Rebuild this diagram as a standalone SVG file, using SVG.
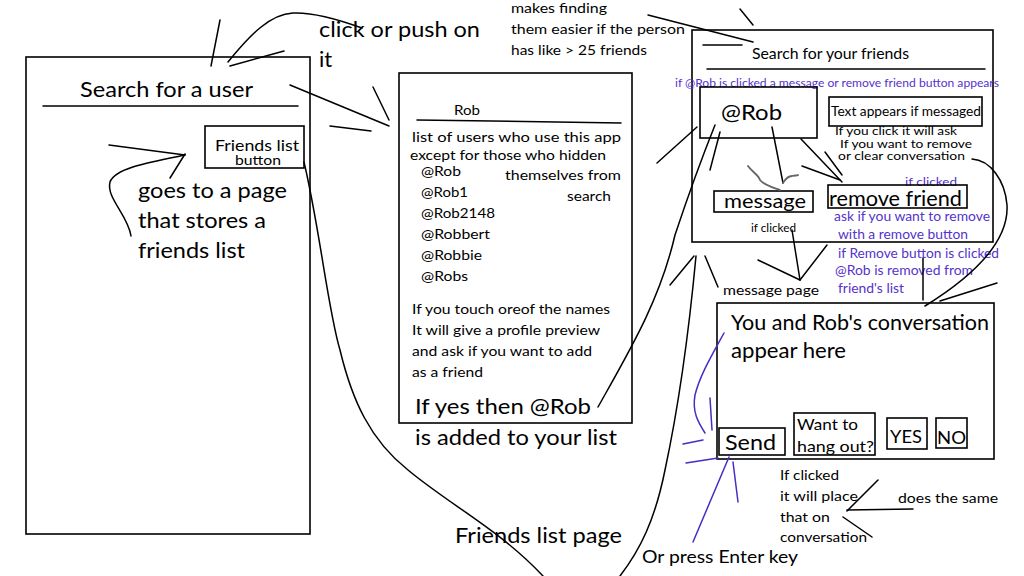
<svg xmlns="http://www.w3.org/2000/svg" width="1024" height="576" viewBox="0 0 1024 576">
<style>
text{font-family:Lato,"Liberation Sans",sans-serif;fill:#000}
.p{fill:#5533cc}
.box{fill:none;stroke:#000;stroke-width:1.6}
.ln{fill:none;stroke:#000;stroke-width:1.5;stroke-linecap:round}
.pl{fill:none;stroke:#4a2bc4;stroke-width:1.5;stroke-linecap:round}
.gr{fill:none;stroke:#666;stroke-width:1.8;stroke-linecap:round}
.s22{font-size:22px}.s21{font-size:21px}.s19{font-size:19px}.s18{font-size:18px}.s16{font-size:16px}.s15{font-size:15px}.s14{font-size:14px}.s13{font-size:13px}.s12{font-size:12px}.s11{font-size:11.5px}
</style>
<rect width="1024" height="576" fill="#fff"/>

<g id="search-user-page">
<rect class="box" x="26" y="57" width="284" height="477"/>
<text class="s22" x="80" y="97" textLength="173" lengthAdjust="spacingAndGlyphs">Search for a user</text>
<line class="ln" x1="43" y1="106" x2="298" y2="106"/>
</g>

<g id="friends-list-button">
<rect class="box" x="205" y="126" width="99" height="42"/>
<text class="s15" x="215" y="151" textLength="84" lengthAdjust="spacingAndGlyphs">Friends list</text>
<text class="s13" x="235" y="165" textLength="46" lengthAdjust="spacingAndGlyphs">button</text>
</g>

<g id="note-goes-to-page">
<text class="s21" x="138" y="198" textLength="149" lengthAdjust="spacingAndGlyphs">goes to a page</text>
<text class="s21" x="138" y="228" textLength="128" lengthAdjust="spacingAndGlyphs">that stores a</text>
<text class="s21" x="138" y="258" textLength="107" lengthAdjust="spacingAndGlyphs">friends list</text>
</g>

<g id="note-click">
<text class="s22" x="319" y="37" textLength="161" lengthAdjust="spacingAndGlyphs">click or push on</text>
<text class="s22" x="319" y="67">it</text>
</g>

<g id="note-makes-finding">
<text class="s14" x="511" y="13" textLength="96" lengthAdjust="spacingAndGlyphs">makes finding</text>
<text class="s14" x="511" y="34" textLength="174" lengthAdjust="spacingAndGlyphs">them easier if the person</text>
<text class="s14" x="511" y="55" textLength="136" lengthAdjust="spacingAndGlyphs">has like &gt; 25 friends</text>
</g>

<g id="search-results-page">
<rect class="box" x="399" y="73" width="233" height="350"/>
<text class="s14" x="454" y="115" textLength="26" lengthAdjust="spacingAndGlyphs">Rob</text>
<line class="ln" x1="417" y1="120" x2="621" y2="123"/>
<text class="s14" x="412" y="142" textLength="209" lengthAdjust="spacingAndGlyphs">list of users who use this app</text>
<text class="s14" x="410" y="160" textLength="196" lengthAdjust="spacingAndGlyphs">except for those who hidden</text>
<text class="s14" x="421" y="176" textLength="40" lengthAdjust="spacingAndGlyphs">@Rob</text>
<text class="s14" x="505" y="180" textLength="116" lengthAdjust="spacingAndGlyphs">themselves from</text>
<text class="s14" x="421" y="197" textLength="47" lengthAdjust="spacingAndGlyphs">@Rob1</text>
<text class="s14" x="567" y="201" textLength="44" lengthAdjust="spacingAndGlyphs">search</text>
<text class="s14" x="421" y="218" textLength="74" lengthAdjust="spacingAndGlyphs">@Rob2148</text>
<text class="s14" x="421" y="239" textLength="69" lengthAdjust="spacingAndGlyphs">@Robbert</text>
<text class="s14" x="421" y="260" textLength="61" lengthAdjust="spacingAndGlyphs">@Robbie</text>
<text class="s14" x="421" y="281" textLength="47" lengthAdjust="spacingAndGlyphs">@Robs</text>
<text class="s14" x="412" y="314" textLength="198" lengthAdjust="spacingAndGlyphs">If you touch oreof the names</text>
<text class="s14" x="412" y="335" textLength="188" lengthAdjust="spacingAndGlyphs">It will give a profile preview</text>
<text class="s14" x="412" y="356" textLength="180" lengthAdjust="spacingAndGlyphs">and ask if you want to add</text>
<text class="s14" x="412" y="377" textLength="71" lengthAdjust="spacingAndGlyphs">as a friend</text>
<text class="s21" x="415" y="414" textLength="176" lengthAdjust="spacingAndGlyphs">If yes then @Rob</text>
<text class="s21" x="415" y="445" textLength="202" lengthAdjust="spacingAndGlyphs">is added to your list</text>
</g>

<g id="note-friends-list-page">
<text class="s22" x="455" y="543" textLength="167" lengthAdjust="spacingAndGlyphs">Friends list page</text>
</g>

<g id="friends-list-screen">
<rect class="box" x="692" y="30" width="301" height="212"/>
<line class="ln" x1="703" y1="45" x2="742" y2="45"/>
<text class="s15" x="752" y="59" textLength="157" lengthAdjust="spacingAndGlyphs">Search for your friends</text>
<line class="ln" x1="707" y1="69" x2="985" y2="69"/>
<text class="s12 p" x="675" y="87" textLength="324" lengthAdjust="spacingAndGlyphs">if  @Rob is clicked  a message or remove friend button appears</text>
</g>

<g id="rob-entry">
<rect class="box" x="700" y="87" width="117" height="51"/>
<text class="s22" x="721" y="120" textLength="61" lengthAdjust="spacingAndGlyphs">@Rob</text>
</g>

<g id="text-appears">
<rect class="box" x="829" y="97" width="153" height="29"/>
<text class="s13" x="831" y="116" textLength="150" lengthAdjust="spacingAndGlyphs">Text appears if messaged</text>
<text class="s11" x="835" y="135" textLength="122" lengthAdjust="spacingAndGlyphs">If you click it will ask</text>
<text class="s11" x="840" y="148" textLength="132" lengthAdjust="spacingAndGlyphs">If you want to remove</text>
<text class="s11" x="838" y="160" textLength="127" lengthAdjust="spacingAndGlyphs">or clear conversation</text>
</g>

<g id="message-button">
<rect class="box" x="714" y="191" width="99" height="21"/>
<text class="s19" x="724" y="208" textLength="82" lengthAdjust="spacingAndGlyphs">message</text>
<text class="s12" x="751" y="232" textLength="45" lengthAdjust="spacingAndGlyphs">if clicked</text>
</g>

<g id="remove-friend-button">
<text class="s12 p" x="905" y="186" textLength="52" lengthAdjust="spacingAndGlyphs">if clicked</text>
<rect class="box" x="828" y="185" width="139" height="23"/>
<text class="s21" x="829" y="206" textLength="133" lengthAdjust="spacingAndGlyphs">remove friend</text>
<text class="s13 p" x="834" y="221" textLength="156" lengthAdjust="spacingAndGlyphs">ask if you want to remove</text>
<text class="s13 p" x="838" y="239" textLength="130" lengthAdjust="spacingAndGlyphs">with a remove button</text>
<text class="s13 p" x="838" y="258" textLength="161" lengthAdjust="spacingAndGlyphs">if Remove button is clicked</text>
<text class="s13 p" x="835" y="275" textLength="138" lengthAdjust="spacingAndGlyphs">@Rob is removed from</text>
<text class="s13 p" x="838" y="293" textLength="66" lengthAdjust="spacingAndGlyphs">friend's list</text>
</g>

<g id="note-message-page">
<text class="s14" x="723" y="295" textLength="96" lengthAdjust="spacingAndGlyphs">message page</text>
</g>

<g id="conversation-page">
<rect class="box" x="717" y="303" width="277" height="156"/>
<text class="s21" x="731" y="330" textLength="258" lengthAdjust="spacingAndGlyphs">You and Rob's conversation</text>
<text class="s21" x="731" y="358" textLength="115" lengthAdjust="spacingAndGlyphs">appear here</text>
</g>

<g id="send-button">
<rect class="box" x="719" y="428" width="66" height="27"/>
<text class="s21" x="725" y="450" textLength="51" lengthAdjust="spacingAndGlyphs">Send</text>
</g>

<g id="hang-out-button">
<rect class="box" x="794" y="413" width="81" height="42"/>
<text class="s16" x="797" y="430" textLength="61" lengthAdjust="spacingAndGlyphs">Want to</text>
<text class="s16" x="797" y="452" textLength="77" lengthAdjust="spacingAndGlyphs">hang out?</text>
</g>

<g id="yes-button">
<rect class="box" x="887" y="418" width="40" height="31"/>
<text class="s18" x="890" y="443" textLength="32" lengthAdjust="spacingAndGlyphs">YES</text>
</g>

<g id="no-button">
<rect class="box" x="936" y="418" width="31" height="30"/>
<text class="s18" x="937" y="444" textLength="29" lengthAdjust="spacingAndGlyphs">NO</text>
</g>

<g id="note-if-clicked-place">
<text class="s14" x="780" y="480" textLength="59" lengthAdjust="spacingAndGlyphs">If clicked</text>
<text class="s14" x="780" y="501" textLength="78" lengthAdjust="spacingAndGlyphs">it will place</text>
<text class="s14" x="780" y="522" textLength="50" lengthAdjust="spacingAndGlyphs">that on</text>
<text class="s14" x="780" y="542" textLength="87" lengthAdjust="spacingAndGlyphs">conversation</text>
</g>

<g id="note-does-same">
<text class="s14" x="898" y="503" textLength="100" lengthAdjust="spacingAndGlyphs">does the same</text>
</g>

<g id="note-enter-key">
<text class="s18" x="642" y="563" textLength="156" lengthAdjust="spacingAndGlyphs">Or press Enter key</text>
</g>

<g id="connectors">
<line class="ln" x1="220" y1="20" x2="211" y2="66"/>
<line class="ln" x1="230" y1="66" x2="284" y2="51"/>
<path class="ln" d="M228,62 C250,35 270,14 293,13 C315,12 340,20 362,28"/>
<line class="ln" x1="109" y1="145" x2="185" y2="155"/>
<line class="ln" x1="185" y1="154" x2="170" y2="178"/>
<path class="ln" d="M185,155 C150,162 115,168 110,182 C106,198 128,215 131,236"/>
<line class="ln" x1="290" y1="85" x2="389" y2="126"/>
<line class="ln" x1="373" y1="87" x2="389" y2="120"/>
<line class="ln" x1="330" y1="126" x2="371" y2="131"/>
<path class="ln" d="M304,162 C320,230 328,310 340,350 C352,400 370,440 408,470 C450,505 500,530 543,576"/>
<path class="ln" d="M598,407 C630,350 660,300 675,235 C690,190 705,150 715,125"/>
<line class="ln" x1="720" y1="132" x2="710" y2="170"/>
<line class="ln" x1="697" y1="127" x2="657" y2="163"/>
<path class="ln" d="M696,256 C690,320 680,400 665,470 C655,520 640,550 620,576"/>
<line class="ln" x1="694" y1="256" x2="670" y2="285"/>
<line class="ln" x1="705" y1="256" x2="718" y2="287"/>
<line class="ln" x1="648" y1="15" x2="753" y2="42"/>
<line class="ln" x1="740" y1="9" x2="753" y2="25"/>
<line class="ln" x1="772" y1="127" x2="783" y2="183"/>
<path class="gr" d="M748,166 C752,172 758,174 760,180 C765,186 775,188 780,190"/>
<path class="gr" d="M783,183 C786,178 789,176 792,176 C795,175 797,176 798,175"/>
<line class="ln" x1="801" y1="139" x2="842" y2="182"/>
<line class="ln" x1="825" y1="152" x2="842" y2="175"/>
<line class="ln" x1="802" y1="166" x2="840" y2="180"/>
<line class="ln" x1="792" y1="230" x2="800" y2="280"/>
<line class="ln" x1="758" y1="260" x2="800" y2="280"/>
<line class="ln" x1="800" y1="280" x2="827" y2="245"/>
<path class="ln" d="M972,159 C990,160 1005,180 1007,205 C1009,240 975,275 925,306"/>
<line class="ln" x1="923" y1="258" x2="923" y2="300"/>
<line class="ln" x1="997" y1="283" x2="940" y2="301"/>
<line class="ln" x1="878" y1="480" x2="847" y2="511"/>
<line class="ln" x1="847" y1="510" x2="913" y2="509"/>
<line class="ln" x1="843" y1="517" x2="872" y2="537"/>
<path class="pl" d="M724,333 C712,355 700,375 695,395 C692,412 698,422 705,433"/>
<line class="pl" x1="710" y1="398" x2="712" y2="430"/>
<line class="pl" x1="683" y1="444" x2="703" y2="440"/>
<line class="pl" x1="686" y1="463" x2="718" y2="458"/>
<line class="pl" x1="729" y1="457" x2="693" y2="542"/>
<line class="pl" x1="733" y1="462" x2="738" y2="502"/>
</g>
</svg>
